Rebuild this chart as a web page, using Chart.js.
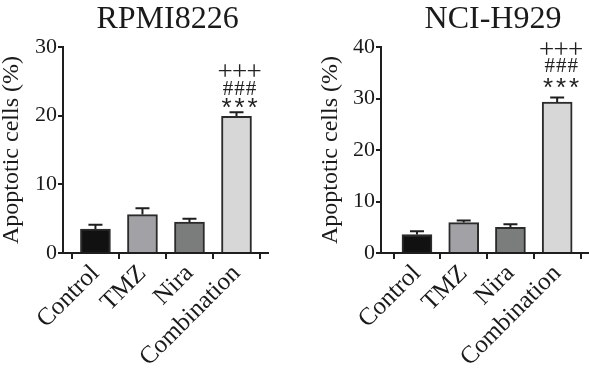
<!DOCTYPE html>
<html>
<head>
<meta charset="utf-8">
<script src="https://cdn.jsdelivr.net/npm/chart.js@4/dist/chart.umd.min.js"></script>
<style>
  html, body { margin: 0; padding: 0; background: #ffffff; }
  #wrap { position: relative; width: 589px; height: 373px; overflow: hidden; }
  .panel { position: absolute; top: 0; }
</style>
</head>
<body>
<div id="wrap">
  <div class="panel" style="left:0px;"><canvas id="c1" width="295" height="373"></canvas></div>
  <div class="panel" style="left:295px;"><canvas id="c2" width="294" height="373"></canvas></div>
</div>
<script>
// ---- data ----
const categories = ['Control', 'TMZ', 'Nira', 'Combination'];
const barColors = ['#111111', '#a2a2a6', '#7b7c7c', '#d7d7d7'];

const rpmiTitle = 'RPMI8226';
const rpmiMeans = [3.5, 5.6, 4.5, 19.9];
const rpmiErrors = [0.6, 0.9, 0.5, 0.6];
const rpmiTicks = [0, 10, 20, 30];

const nciTitle = 'NCI-H929';
const nciMeans = [3.6, 5.9, 5.0, 29.3];
const nciErrors = [0.6, 0.4, 0.6, 0.9];
const nciTicks = [0, 10, 20, 30, 40];

const yAxisTitle = 'Apoptotic cells (%)';
const sigRows = ['+++', '###', '***'];   // significance marks above Combination
const sigIndex = 3;

const AXIS = '#1e1e1e';
const SERIF = "'Liberation Serif', 'Times New Roman', serif";

// ---- plugins ----
const errorBarPlugin = {
  id: 'errorBars',
  afterDatasetsDraw(chart, args, opts) {
    const ctx = chart.ctx;
    const meta = chart.getDatasetMeta(0);
    const ys = chart.scales.y;
    ctx.save();
    ctx.strokeStyle = AXIS;
    ctx.lineWidth = 2;
    opts.means.forEach((m, i) => {
      const x = meta.data[i].x;
      const y0 = ys.getPixelForValue(m);
      const y1 = ys.getPixelForValue(m + opts.errors[i]);
      ctx.beginPath();
      ctx.moveTo(x, y0);
      ctx.lineTo(x, y1);
      ctx.moveTo(x - 7, y1);
      ctx.lineTo(x + 7, y1);
      ctx.stroke();
    });
    ctx.restore();
  }
};

const sigPlugin = {
  id: 'sigMarks',
  afterDatasetsDraw(chart, args, opts) {
    const ctx = chart.ctx;
    const meta = chart.getDatasetMeta(0);
    const ys = chart.scales.y;
    const i = opts.index;
    const cx = meta.data[i].x + opts.dx;
    const yTop = ys.getPixelForValue(opts.means[i] + opts.errors[i]);
    ctx.save();
    ctx.fillStyle = '#222222';
    ctx.textAlign = 'center';
    ctx.textBaseline = 'alphabetic';
    opts.rows.forEach((row, r) => {
      const chars = Array.from(row);
      const st = opts.styles[row[0]] || opts.styles['+'];
      ctx.font = st.font;
      const cy = yTop - opts.offsets[r];
      chars.forEach((ch, k) => {
        const m = ctx.measureText(ch);
        const asc = m.actualBoundingBoxAscent, desc = m.actualBoundingBoxDescent;
        const baseY = cy + (asc - desc) / 2;
        const x = cx + (k - (chars.length - 1) / 2) * st.gap;
        ctx.fillText(ch, x, baseY);
      });
    });
    ctx.restore();
  }
};

const titlePlugin = {
  id: 'panelTitle',
  afterDraw(chart, args, opts) {
    const ctx = chart.ctx;
    const ca = chart.chartArea;
    ctx.save();
    ctx.fillStyle = '#1a1a1a';
    ctx.font = '32px ' + SERIF;
    ctx.textAlign = 'center';
    ctx.textBaseline = 'alphabetic';
    ctx.fillText(opts.text, (ca.left + ca.right) / 2 + opts.dx, opts.baseline);
    ctx.restore();
  }
};

// ---- chart builder ----
function buildChart(canvasId, cfg) {
  const data = cfg.means.map((v, i) => ({ x: i, y: v }));
  return new Chart(document.getElementById(canvasId), {
    type: 'bar',
    data: {
      datasets: [{
        data: data,
        backgroundColor: barColors,
        borderColor: '#2b2b2b',
        borderWidth: 2,
        borderSkipped: 'start',
        barThickness: 30
      }]
    },
    plugins: [errorBarPlugin, sigPlugin, titlePlugin],
    options: {
      responsive: false,
      animation: false,
      devicePixelRatio: 1,
      layout: { padding: { top: 47, right: cfg.padRight, left: 0, bottom: 0 } },
      plugins: {
        legend: { display: false },
        tooltip: { enabled: false },
        title: { display: false },
        errorBars: { means: cfg.means, errors: cfg.errors },
        sigMarks: {
          index: sigIndex, rows: sigRows, means: cfg.means, errors: cfg.errors,
          dx: cfg.sigDx, offsets: cfg.sigOffsets,
          styles: {
            '+': { font: '27px ' + SERIF, gap: 14.5 },
            '#': { font: '21px ' + SERIF, gap: 11.5 },
            '*': { font: '26px "Liberation Sans", sans-serif', gap: 13 }
          }
        },
        panelTitle: { text: cfg.title, dx: cfg.titleDx, baseline: 28 }
      },
      scales: {
        x: {
          type: 'linear',
          min: cfg.xMin,
          max: cfg.xMax,
          offset: false,
          afterBuildTicks: (s) => { s.ticks = categories.map((_, i) => ({ value: i })); },
          afterFit: (s) => { s.height = 120; },
          grid: { display: true, drawOnChartArea: false, drawTicks: true, tickLength: 6, color: AXIS, lineWidth: 2 },
          border: { display: true, color: AXIS, width: 2 },
          ticks: {
            autoSkip: false,
            minRotation: 45,
            maxRotation: 45,
            padding: 0,
            color: '#1a1a1a',
            font: { family: SERIF, size: 25 },
            callback: (v) => categories[v]
          }
        },
        y: {
          min: 0,
          max: cfg.yMax,
          afterBuildTicks: (s) => { s.ticks = cfg.ticks.map(v => ({ value: v })); },
          afterFit: (s) => { s.width = cfg.yWidth; },
          grid: { display: true, drawOnChartArea: false, drawTicks: true, tickLength: 5, color: AXIS, lineWidth: 2 },
          border: { display: true, color: AXIS, width: 2 },
          ticks: {
            padding: 1,
            color: '#1a1a1a',
            font: { family: SERIF, size: 22 }
          },
          title: {
            display: true,
            text: yAxisTitle,
            color: '#1a1a1a',
            font: { family: SERIF, size: 24, lineHeight: 1 },
            padding: { top: cfg.yTitlePad, bottom: 0 }
          }
        }
      }
    }
  });
}

buildChart('c1', {
  title: rpmiTitle, means: rpmiMeans, errors: rpmiErrors, ticks: rpmiTicks,
  yMax: 30, yWidth: 63, padRight: 27, xMin: -0.69, xMax: 3.67,
  yTitlePad: 0, titleDx: 2, sigDx: 3, sigOffsets: [42, 24, 9]
});
buildChart('c2', {
  title: nciTitle, means: nciMeans, errors: nciErrors, ticks: nciTicks,
  yMax: 40, yWidth: 86, padRight: 1, xMin: -0.77, xMax: 3.66,
  yTitlePad: 24, titleDx: 8.5, sigDx: 4, sigOffsets: [49, 32, 14]
});
</script>
</body>
</html>
